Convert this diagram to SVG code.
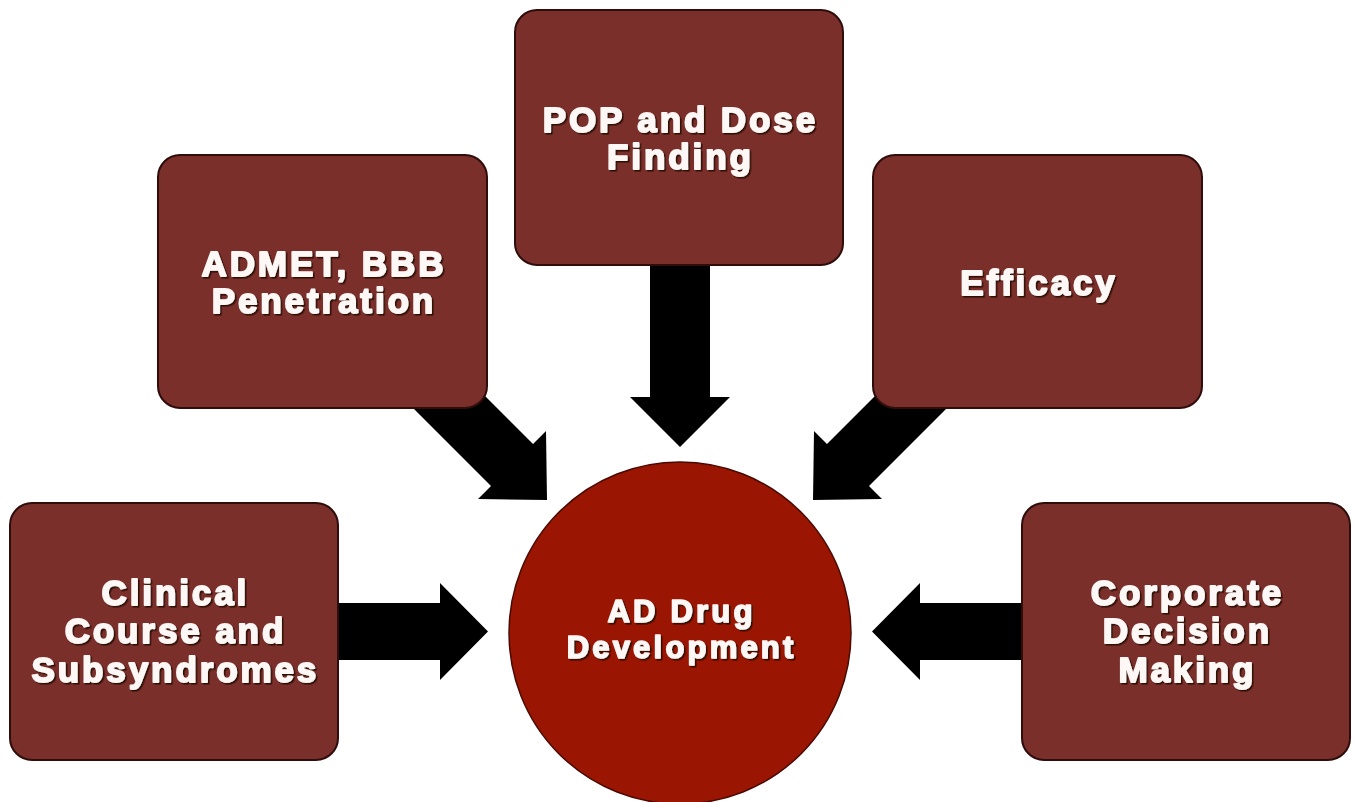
<svg xmlns="http://www.w3.org/2000/svg" width="1355" height="802" viewBox="0 0 1355 802">
  <defs>
    <filter id="txtShadow" x="-10%" y="-30%" width="120%" height="160%">
      <feDropShadow dx="1.6" dy="1.6" stdDeviation="0.7" flood-color="#2a0806" flood-opacity="0.95"/>
    </filter>
  </defs>
  <style>
    .box { fill: #7a2f2b; stroke: #2e0d0b; stroke-width: 2; }
    .hub { fill: #9a1502; stroke: #4a0a04; stroke-width: 1.5; }
    .arrow { fill: #000000; }
    .label { font-family: "Liberation Sans", Arial, sans-serif; font-weight: bold; font-size: 35px;
             letter-spacing: 2.9px; fill: #fdf7f5; stroke: #fdf7f5; stroke-width: 1.8;
             stroke-linejoin: round; text-anchor: middle; filter: url(#txtShadow); }
    .hub-label { font-size: 31px; letter-spacing: 3.2px; stroke-width: 1.6; }
  </style>

  <rect width="1355" height="802" fill="#ffffff"/>

  <!-- block arrows pointing into the hub -->
  <g id="connectors">
    <!-- Clinical course -> hub -->
    <polygon class="arrow" points="330,603 440,603 440,583 488,631.5 440,680 440,660 330,660"/>
    <!-- Corporate decision -> hub -->
    <polygon class="arrow" points="1030,603 920,603 920,583 872,631.5 920,680 920,660 1030,660"/>
    <!-- POP / dose finding -> hub -->
    <polygon class="arrow" points="650,258 710,258 710,397 730,397 680,447 630,397 650,397"/>
    <!-- ADMET -> hub (diagonal) -->
    <polygon class="arrow" points="451,362 533,444 546,431 547,500 478,499 491,486 409,404"/>
    <!-- Efficacy -> hub (diagonal) -->
    <polygon class="arrow" points="909,362 827,444 814,431 813,500 882,499 869,486 951,404"/>
  </g>

  <g id="node-hub">
    <circle class="hub" cx="680" cy="633" r="171"/>
    <text class="label hub-label" x="681.6" y="622">AD Drug</text>
    <text class="label hub-label" x="681.6" y="658">Development</text>
  </g>

  <g id="node-pop">
    <rect class="box" x="515" y="10" width="328" height="255" rx="22" ry="22"/>
    <text class="label" x="680.4" y="132">POP and Dose</text>
    <text class="label" x="680.4" y="169">Finding</text>
  </g>

  <g id="node-admet">
    <rect class="box" x="158" y="155" width="329" height="253" rx="22" ry="22"/>
    <text class="label" x="323.9" y="276">ADMET, BBB</text>
    <text class="label" x="323.9" y="313">Penetration</text>
  </g>

  <g id="node-efficacy">
    <rect class="box" x="873" y="155" width="329" height="253" rx="22" ry="22"/>
    <text class="label" x="1038.9" y="295">Efficacy</text>
  </g>

  <g id="node-clinical">
    <rect class="box" x="10" y="503" width="328" height="257" rx="22" ry="22"/>
    <text class="label" x="175.4" y="605">Clinical</text>
    <text class="label" x="175.4" y="643">Course and</text>
    <text class="label" x="175.4" y="682">Subsyndromes</text>
  </g>

  <g id="node-corporate">
    <rect class="box" x="1022" y="503" width="328" height="257" rx="22" ry="22"/>
    <text class="label" x="1187.4" y="605">Corporate</text>
    <text class="label" x="1187.4" y="643">Decision</text>
    <text class="label" x="1187.4" y="682">Making</text>
  </g>
</svg>
